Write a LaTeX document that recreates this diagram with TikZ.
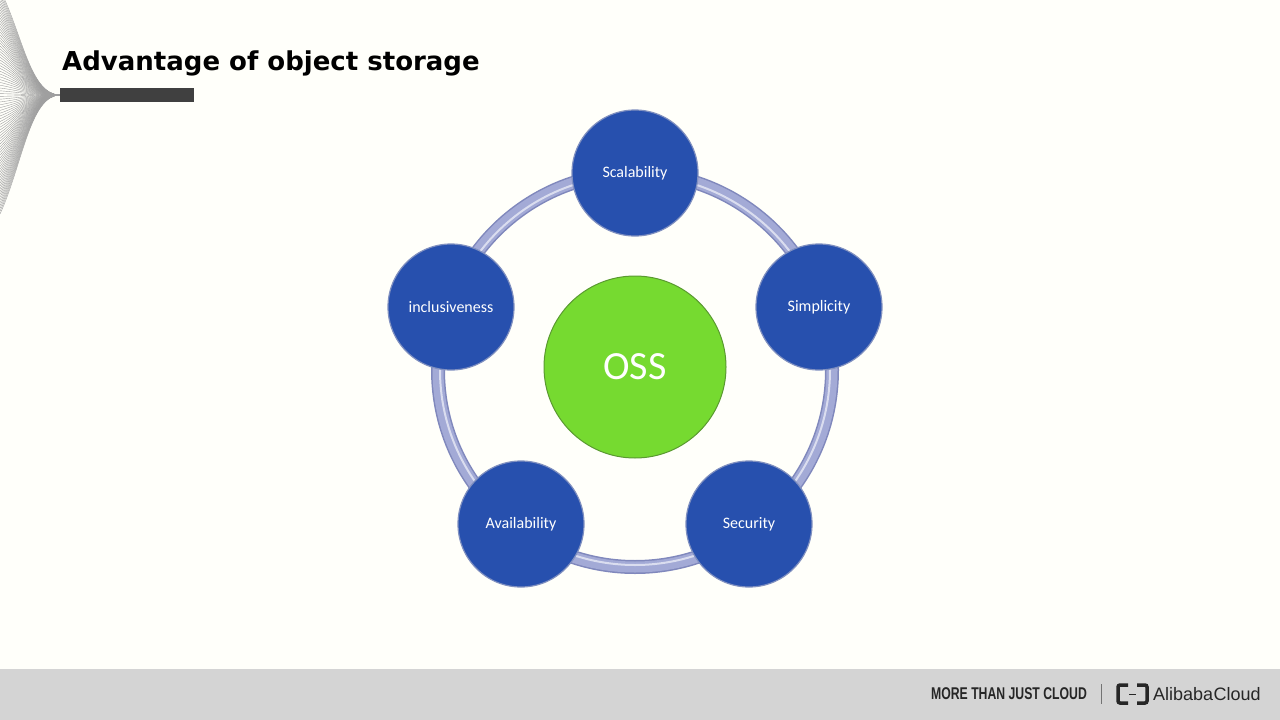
\documentclass[tikz,border=0pt]{standalone}
\usepackage{fontspec}
\setmainfont{Carlito}
\newfontfamily\titlefont{DejaVu Sans}
\newfontfamily\footfont{Liberation Sans}
\begin{document}
\begin{tikzpicture}[x=1pt,y=-1pt,
  sat/.style={circle,minimum size=126pt,inner sep=0pt,fill=blue1,draw=blue3,line width=1.2pt,text=white,font=\fontsize{16}{18}\selectfont},
  hub/.style={circle,minimum size=182pt,inner sep=0pt,fill=green1,draw=green2,line width=1pt,text=white,font=\fontsize{40}{42}\selectfont}]
\definecolor{blue1}{HTML}{2750AE}
\definecolor{blue3}{HTML}{8090C0}
\definecolor{green1}{HTML}{76DA30}
\definecolor{green2}{HTML}{5A9A30}
\definecolor{ring}{HTML}{A3AAD6}
\definecolor{ringedge}{HTML}{8088BC}
\useasboundingbox (0,0) rectangle (1280,720);
\fill[white!97!yellow!60] (0,0) rectangle (1280,720);
% fan decoration
\foreach \i in {0,...,80}{
  \pgfmathsetmacro{\yy}{-10+\i*2.8}
  \draw[gray!75,line width=0.4pt] (60,95) .. controls (30,95) and (22,{0.6*\yy+38}) .. (0,\yy);
}
\fill[fill=black!75] (60,88) rectangle (194,102);
\node[anchor=west,inner sep=0pt,font=\titlefont\bfseries\fontsize{26}{30}\selectfont] (title) at (62,63) {Advantage of object storage};
% ring
\coordinate (c) at (635,370);
\draw[ringedge,line width=14pt] (c) circle (197);
\draw[ring,line width=11pt] (c) circle (197);
\draw[white!60!ring,line width=2pt] (c) circle (195);
\node[hub] (oss) at (635,367) {OSS};
\node[sat] (s1) at (635,173) {Scalability};
\node[sat] (s2) at (819,307) {Simplicity};
\node[sat] (s3) at (749,524) {Security};
\node[sat] (s4) at (521,524) {Availability};
\node[sat] (s5) at (451,307) {inclusiveness};
% footer
\fill[black!17] (0,669) rectangle (1280,720);
\node[anchor=east,inner sep=0pt,font=\footfont\bfseries\fontsize{17}{19}\selectfont,xscale=0.72,text=black!85] (m) at (1087,694) {MORE THAN JUST CLOUD};
\draw[black!55,line width=1pt] (1101,684) -- (1101,704);
\draw[black!85,line width=3.5pt,rounded corners=2pt] (1128,685) -- (1118,685) -- (1118,703) -- (1128,703);
\draw[black!85,line width=3.5pt,rounded corners=2pt] (1137,685) -- (1147,685) -- (1147,703) -- (1137,703);
\draw[black!85,line width=1pt] (1129,694) -- (1136,694);
\node[anchor=west,font=\footfont\fontsize{18}{20}\selectfont,text=black!85,inner sep=0pt] (ab) at (1153,694) {Alibaba\hspace{0.5pt}Cloud};
\end{tikzpicture}
\end{document}
